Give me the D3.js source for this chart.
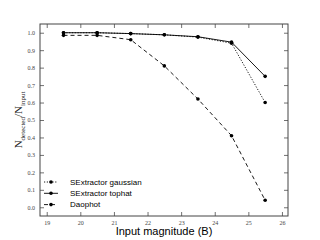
<!DOCTYPE html>
<html>
<head>
<meta charset="utf-8">
<script src="https://cdn.jsdelivr.net/npm/d3@7"></script>
<style>
body { margin: 0; background: #fff; }
svg { display: block; }
</style>
</head>
<body>
<svg id="chart"></svg>
<script>
// magnitudes and fractions
var mags = [19.5, 20.5, 21.5, 22.5, 23.5, 24.5, 25.5];
var gaussian = [1.0, 1.0, 0.995, 0.988, 0.975, 0.94, 0.60];
var tophat = [1.0, 1.0, 0.995, 0.988, 0.977, 0.946, 0.75];
var daophot = [0.985, 0.985, 0.96, 0.81, 0.62, 0.41, 0.04];
var seriesNames = ["SExtractor gaussian", "SExtractor tophat", "Daophot"];
var xTicks = [19, 20, 21, 22, 23, 24, 25, 26];
var yTicks = [0, 0.1, 0.2, 0.3, 0.4, 0.5, 0.6, 0.7, 0.8, 0.9, 1.0];

var W = 320, H = 240;
var m = {left: 40, top: 24, right: 32, bottom: 24};

var svg = d3.select("#chart")
    .attr("width", W)
    .attr("height", H)

var x = d3.scaleLinear().domain([18.8, 26.18]).range([m.left, W - m.right]);
var y = d3.scaleLinear().domain([-0.05, 1.05]).range([H - m.bottom, m.top]);

var dash = ["1.2,1.6", null, "4,3"];
var all = [gaussian, tophat, daophot];

var line = d3.line()
    .x(function(d, i) { return x(mags[i]); })
    .y(function(d) { return y(d); });

all.forEach(function(vals, k) {
    svg.append("path")
        .datum(vals)
        .attr("d", line)
        .attr("fill", "none")
        .attr("stroke", "#000")
        .attr("stroke-width", 0.9)
        .attr("stroke-dasharray", dash[k]);
    svg.selectAll("circle.s" + k)
        .data(vals)
        .enter()
        .append("circle")
        .attr("class", "s" + k)
        .attr("cx", function(d, i) { return x(mags[i]); })
        .attr("cy", function(d) { return y(d); })
        .attr("r", 1.8)
        .attr("fill", "#000");
});

// axes, ticks pointing inward on all four sides
var tickFont = "'Liberation Serif', serif";
function styleAxis(g) {
    g.select(".domain").remove();
    g.selectAll("line").attr("stroke", "#333").attr("stroke-width", 0.7);
    g.selectAll("text").attr("font-family", tickFont).attr("font-size", 6).attr("fill", "#444");
}
svg.append("g")
    .attr("transform", "translate(0," + (H - m.bottom) + ")")
    .call(d3.axisBottom(x).tickValues(xTicks).tickFormat(d3.format("d")).tickSizeInner(-4).tickPadding(5))
    .call(styleAxis);
svg.append("g")
    .attr("transform", "translate(0," + m.top + ")")
    .call(d3.axisTop(x).tickValues(xTicks).tickFormat("").tickSizeInner(-4))
    .call(styleAxis);
svg.append("g")
    .attr("transform", "translate(" + m.left + ",0)")
    .call(d3.axisLeft(y).tickValues(yTicks).tickFormat(d3.format(".1f")).tickSizeInner(-4).tickPadding(5))
    .call(styleAxis);
svg.append("g")
    .attr("transform", "translate(" + (W - m.right) + ",0)")
    .call(d3.axisRight(y).tickValues(yTicks).tickFormat("").tickSizeInner(-4))
    .call(styleAxis);

svg.append("rect")
    .attr("x", m.left)
    .attr("y", m.top)
    .attr("width", W - m.left - m.right)
    .attr("height", H - m.top - m.bottom)
    .attr("fill", "none")
    .attr("stroke", "#444")
    .attr("stroke-width", 1);

// legend
var leg = svg.append("g").attr("transform", "translate(44,182)");
seriesNames.forEach(function(name, k) {
    var g = leg.append("g").attr("transform", "translate(0," + (k * 11.3) + ")");
    g.append("line")
        .attr("x1", 0).attr("x2", 14)
        .attr("stroke", "#000")
        .attr("stroke-width", 0.9)
        .attr("stroke-dasharray", dash[k]);
    g.append("circle").attr("cx", 7).attr("r", 1.8).attr("fill", "#000");
    g.append("text")
        .attr("x", 26)
        .attr("y", 2.8)
        .attr("font-family", "'Liberation Sans', Arial, sans-serif")
        .attr("font-size", 8)
        .text(name);
});

// axis labels
svg.append("text")
    .attr("x", (m.left + W - m.right) / 2)
    .attr("y", 235)
    .attr("text-anchor", "middle")
    .attr("font-family", "'Liberation Sans', Arial, sans-serif")
    .attr("font-size", 11)
    .text("Input magnitude (B)");

var yl = svg.append("text")
    .attr("transform", "translate(22," + (m.top + (H - m.top - m.bottom) / 2) + ") rotate(-90)")
    .attr("text-anchor", "middle")
    .attr("font-family", "'Liberation Serif', serif")
    .attr("fill", "#222")
    .attr("font-size", 11);
yl.append("tspan").text("N");
yl.append("tspan").attr("font-size", 7).attr("dy", 2.5).text("detected");
yl.append("tspan").attr("dy", -2.5).text("/N");
yl.append("tspan").attr("font-size", 7).attr("dy", 2.5).text("input");
</script>
</body>
</html>
